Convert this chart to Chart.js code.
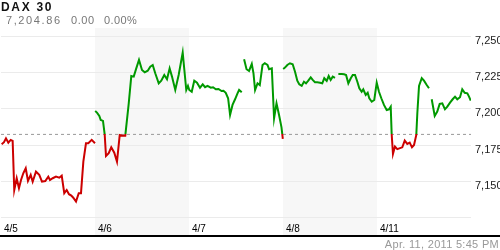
<!DOCTYPE html>
<html lang="en">
  <head>
    <meta charset="UTF-8" />
    <title>DAX 30</title>
    <script src="https://cdn.jsdelivr.net/npm/chart.js"></script>
    <style>
      body { margin: 0; background: #fff; font-family: "Liberation Sans", Arial, sans-serif; }
      .wrap { position: relative; width: 500px; height: 250px; overflow: hidden; }
      canvas { position: absolute; left: 0; top: 0; }
      .name { position: absolute; left: 1px; top: 0px; font-size: 12px; font-weight: bold; color: #111; letter-spacing: 1.7px; }
      .quote { position: absolute; top: 14px; font-size: 11px; color: #777; }
      .stamp { position: absolute; right: 1px; top: 238px; font-size: 11px; color: #999; letter-spacing: 0.3px; }
    </style>
  </head>
  <body>
    <div class="wrap">
      <canvas id="daxChart" width="500" height="250"></canvas>
      <div class="name">DAX 30</div>
      <div class="quote" style="left: 6px; letter-spacing: 1.6px">7,204.86</div>
      <div class="quote" style="left: 71px; letter-spacing: 0.6px">0.00</div>
      <div class="quote" style="left: 104px; letter-spacing: 0.4px">0.00%</div>
      <div class="stamp">Apr. 11, 2011 5:45 PM</div>
    </div>

    <script>
      // trading days shown on the x axis
      const dayLabels = ["4/5", "4/6", "4/7", "4/8", "4/11"];
      const yTicks = [7125, 7150, 7175, 7200, 7225, 7250];
      const prevClose = 7182;

      // hour of day and index level, null = no data
      const apr5Hours = [8.07, 8.32, 8.53, 8.78, 9.03, 9.24, 9.41, 9.67, 9.91, 10.13, 10.37, 10.63, 10.87, 11.16, 11.37, 11.72, 12.07, 12.36, 12.71, 13.03, 13.21, 13.5, 13.85, 14.2, 14.46, 14.73, 14.99, 15.23, 15.48, 15.69, 15.98, 16.27, 16.51, 16.76, 17.04, 17.29, 17.65, 18.0];
      const apr5Values = [7175.2, 7176.6, 7179.3, 7176.3, 7178.2, 7177.5, 7143.7, 7151.8, 7144.9, 7150.6, 7155.2, 7158.7, 7149.9, 7154.1, 7149.4, 7156.3, 7154.1, 7149.4, 7149.9, 7152.9, 7150.6, 7151.8, 7152.9, 7152.2, 7153.6, 7141.5, 7143.7, 7140.8, 7139.8, 7138.4, 7135.7, 7141.5, 7141.5, 7163.2, 7175.9, 7175.9, 7178.2, 7175.9];

      const apr6Hours = [8.0, 8.02, 8.21, 8.46, 8.61, 8.85, 9.03, 9.17, 9.46, 9.73, 10.05, 10.34, 10.63, 10.95, 11.22, 11.59, 11.86, 12.12, 12.39, 12.68, 13.0, 13.29, 13.61, 13.88, 14.14, 14.41, 14.78, 15.05, 15.37, 15.66, 15.94, 16.19, 16.54, 16.9, 17.33, 17.71, 17.89];
      const apr6Values = [null, 7198.1, 7197, 7194.7, 7191.9, 7191.3, 7182.1, 7167.1, 7169, 7173.1, 7169.4, 7163.2, 7181.6, 7181.1, 7181.1, 7203.4, 7222.2, 7221.8, 7227.5, 7233.3, 7226.4, 7224.8, 7225.9, 7228.7, 7229.8, 7224.1, 7217.2, 7219, 7222.9, 7220, 7227.5, 7221.8, 7212.6, 7222.9, 7238.3, 7212.6, 7215.4];

      const apr7Hours = [8.03, 8.29, 8.56, 8.85, 9.17, 9.46, 9.71, 9.97, 10.32, 10.56, 10.85, 11.14, 11.46, 11.67, 11.91, 12.16, 12.37, 12.63, 12.9, 13.16, 13.33, 13.61, 13.75, 13.86, 14.12, 14.39, 14.68, 14.86, 15.03, 15.29, 15.53, 15.82, 16.06, 16.35, 16.52, 16.81, 17.05, 17.31, 17.58, 17.84, 17.98];
      const apr7Values = [7212.6, 7211.4, 7219, 7217.6, 7214.2, 7216.5, 7214.5, 7215.4, 7214.2, 7214.5, 7213.1, 7213.3, 7211.9, 7212.1, 7210.7, 7206.9, 7195.4, 7202.3, 7206.2, 7210.3, 7212.6, 7211, null, 7233.7, 7226.9, 7225.7, 7230.5, 7224.1, 7212.6, 7217.2, 7216, 7229.8, 7231, 7229.8, 7226.9, 7227.5, 7193.1, 7203.4, 7195.4, 7186.9, 7178.9];

      const apr8Hours = [8.0, 8.02, 8.21, 8.46, 8.74, 9.03, 9.28, 9.52, 9.73, 9.99, 10.23, 10.45, 10.69, 10.95, 11.16, 11.4, 11.65, 11.94, 12.18, 12.39, 12.65, 12.86, 13.07, 13.29, 13.53, 13.7, 13.89, 14.25, 14.5, 14.71, 14.95, 15.21, 15.42, 15.66, 15.91, 16.12, 16.37, 16.54, 16.8, 17.01, 17.18, 17.44, 17.71, 17.97];
      const apr8Values = [null, 7227.1, 7228, 7229.8, 7231, 7230.3, 7225.2, 7219, 7216.5, 7215.4, 7218.3, 7217.2, 7219, 7221.3, 7219.5, 7217.9, 7217.9, 7217.6, 7217.2, 7220.7, 7218.8, 7222.2, 7219.5, 7221.8, 7220.9, null, 7223.6, 7223.6, 7223.4, 7222.9, 7217.2, 7220.7, 7222.9, 7222.9, 7218.3, 7213.8, 7211.4, 7213.1, 7209.2, 7210.7, 7206.9, 7204.5, 7205.7, 7217.6];

      const apr11Hours = [8.21, 8.46, 8.74, 9.03, 9.28, 9.46, 9.56, 9.7, 9.91, 10.16, 10.45, 10.69, 10.95, 11.22, 11.48, 11.72, 11.94, 12.18, 12.29, 12.47, 12.76, 13.0, 13.29, 13.53, 13.68, 13.82, 14.14, 14.41, 14.67, 14.95, 15.23, 15.48, 15.77, 16.05, 16.3, 16.54, 16.83, 17.07, 17.33, 17.61, 17.79, 17.97];
      const apr11Values = [7211.4, 7206.9, 7202.3, 7198.8, 7199.3, 7201.1, 7182.3, 7168.5, 7173.6, 7171.8, 7172.5, 7173.1, 7177.7, 7175.4, 7176.3, 7173.1, 7174.7, 7181.6, 7196.6, 7215.4, 7220.7, 7219, 7216, 7213.8, null, 7206.2, 7194.7, 7197.7, 7203, 7203.4, 7199.3, 7201.1, 7203.9, 7206.2, 7208, 7206.2, 7207.6, 7213.1, 7210.7, 7210.3, 7208, 7205.2];

      const sessions = [
        [apr5Hours, apr5Values],
        [apr6Hours, apr6Values],
        [apr7Hours, apr7Values],
        [apr8Hours, apr8Values],
        [apr11Hours, apr11Values],
      ];

      // session runs 8:00 - 18:00, one unit on the x axis per day
      const points = [];
      sessions.forEach(([hours, values], day) => {
        hours.forEach((h, i) => {
          points.push({ x: day + (h - 8) / 10, y: values[i] });
        });
      });

      const green = "#009900";
      const red = "#cc0000";

      function splitColor(context) {
        const chart = context.chart;
        const area = chart.chartArea;
        if (!area) return green;
        const yRef = chart.scales.y.getPixelForValue(prevClose);
        const stop = Math.min(1, Math.max(0, (yRef - area.top) / (area.bottom - area.top)));
        const grad = chart.ctx.createLinearGradient(0, area.top, 0, area.bottom);
        grad.addColorStop(0, green);
        grad.addColorStop(stop, green);
        grad.addColorStop(stop, red);
        grad.addColorStop(1, red);
        return grad;
      }

      // alternating day bands behind the lines
      const dayBands = {
        id: "dayBands",
        beforeDatasetsDraw(chart) {
          const { ctx, chartArea, scales } = chart;
          ctx.save();
          ctx.fillStyle = "#f7f7f7";
          dayLabels.forEach((label, i) => {
            if (i % 2 === 1) {
              const x0 = scales.x.getPixelForValue(i);
              const x1 = scales.x.getPixelForValue(i + 1);
              ctx.fillRect(x0, chartArea.top, x1 - x0, chartArea.bottom - chartArea.top);
            }
          });
          // horizontal grid over the bands
          ctx.strokeStyle = "#ebebeb";
          ctx.lineWidth = 1;
          yTicks.forEach((v) => {
            const y = Math.round(scales.y.getPixelForValue(v)) + 0.5;
            ctx.beginPath();
            ctx.moveTo(chartArea.left, y);
            ctx.lineTo(chartArea.right, y);
            ctx.stroke();
          });
          ctx.restore();
        },
        afterDraw(chart) {
          const { ctx, chartArea, scales } = chart;
          ctx.save();
          ctx.fillStyle = "#000";
          ctx.font = "10px 'Liberation Sans', Arial, sans-serif";
          ctx.textBaseline = "middle";
          dayLabels.forEach((label, i) => {
            ctx.fillText(label, scales.x.getPixelForValue(i) + 3, chartArea.bottom - 7);
          });
          ctx.fillRect(0, chartArea.bottom - 1, chart.width, 2);
          ctx.restore();
        },
      };

      const ctx = document.getElementById("daxChart").getContext("2d");
      const daxChart = new Chart(ctx, {
        type: "line",
        data: {
          datasets: [
            {
              data: points,
              borderColor: splitColor,
              borderWidth: 2,
              pointRadius: 0,
              tension: 0,
              spanGaps: false,
              order: 0,
            },
            {
              data: [
                { x: 0, y: prevClose },
                { x: dayLabels.length, y: prevClose },
              ],
              borderColor: "#999",
              borderWidth: 1,
              borderDash: [3, 3],
              pointRadius: 0,
              order: 1,
            },
          ],
        },
        options: {
          responsive: false,
          animation: false,
          events: [],
          layout: { padding: { top: 28, bottom: 14, left: 1, right: 0 } },
          plugins: { legend: { display: false }, tooltip: { enabled: false } },
          scales: {
            x: {
              type: "linear",
              display: false,
              min: 0,
              max: dayLabels.length,
            },
            y: {
              position: "right",
              min: 7112,
              max: 7255.3,
              afterBuildTicks(scale) {
                scale.ticks = yTicks.map((v) => ({ value: v }));
              },
              afterFit(scale) {
                scale.width = 29;
              },
              grid: { display: false, drawTicks: false },
              border: { display: false },
              ticks: {
                padding: 4,
                labelOffset: 5,
                color: "#222",
                font: { family: "'Liberation Sans', Arial, sans-serif", size: 11 },
                callback: (v) => (v === 7125 ? "" : v.toLocaleString("en-US")),
              },
            },
          },
        },
        plugins: [dayBands],
      });
    </script>
  </body>
</html>
